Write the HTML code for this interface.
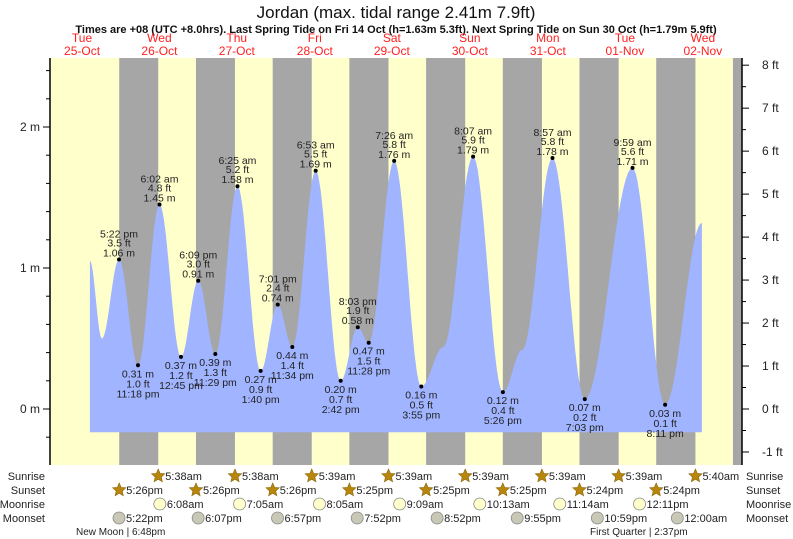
<!DOCTYPE html>
<html><head><meta charset="utf-8"><style>
body{margin:0;background:#fff;}
svg{display:block;font-family:"Liberation Sans",Arial,sans-serif;}
</style></head><body>
<svg id="chart" width="793" height="539" viewBox="0 0 793 539">
<text x="396" y="18" text-anchor="middle" font-size="17" fill="#111">Jordan (max. tidal range 2.41m 7.9ft)</text>
<text x="396" y="33" text-anchor="middle" font-size="11" font-weight="bold" fill="#111">Times are +08 (UTC +8.0hrs). Last Spring Tide on Fri 14 Oct (h=1.63m 5.3ft). Next Spring Tide on Sun 30 Oct (h=1.79m 5.9ft)</text>
<g id="bg"></g><g id="tide"></g><g id="axes"></g><g id="labels"></g><g id="days"></g><g id="astro"></g>
<text x="45" y="480" text-anchor="end" font-size="11" fill="#222">Sunrise</text>
<text x="45" y="494" text-anchor="end" font-size="11" fill="#222">Sunset</text>
<text x="45" y="508" text-anchor="end" font-size="11" fill="#222">Moonrise</text>
<text x="45" y="522" text-anchor="end" font-size="11" fill="#222">Moonset</text>
<text x="746" y="480" font-size="11" fill="#222">Sunrise</text>
<text x="746" y="494" font-size="11" fill="#222">Sunset</text>
<text x="746" y="508" font-size="11" fill="#222">Moonrise</text>
<text x="746" y="522" font-size="11" fill="#222">Moonset</text>
<text x="76" y="535" font-size="10" fill="#222">New Moon | 6:48pm</text>
<text x="590" y="535" font-size="10" fill="#222">First Quarter | 2:37pm</text>
</svg>
<script>
// hours since 25-Oct 00:00
const extremeHours=[17.367,23.3,30.033,36.75,42.15,47.483,54.417,61.667,67.017,71.567,78.883,86.7,92.05,95.467,103.433,111.917,128.117,137.433,152.95,163.05,177.983,188.183];
const extremeHeights=[1.06,0.31,1.45,0.37,0.91,0.39,1.58,0.27,0.74,0.44,1.69,0.20,0.58,0.47,1.76,0.16,1.79,0.12,1.78,0.07,1.71,0.03];
const extremeFeet=["3.5","1.0","4.8","1.2","3.0","1.3","5.2","0.9","2.4","1.4","5.5","0.7","1.9","1.5","5.8","0.5","5.9","0.4","5.8","0.2","5.6","0.1"];
const extremeTimes=["5:22 pm","11:18 pm","6:02 am","12:45 pm","6:09 pm","11:29 pm","6:25 am","1:40 pm","7:01 pm","11:34 pm","6:53 am","2:42 pm","8:03 pm","11:28 pm","7:26 am","3:55 pm","8:07 am","5:26 pm","8:57 am","7:03 pm","9:59 am","8:11 pm"];
const extremeIsHigh=[1,0,1,0,1,0,1,0,1,0,1,0,1,0,1,0,1,0,1,0,1,0];
const shapeHours=[8.26,12.0,118.8,143.5,199.7];
const shapeHeights=[1.05,0.50,0.44,0.42,1.32];
const sunriseHours=[29.633,53.633,77.65,101.65,125.65,149.65,173.65,197.667];
const sunriseTimes=["5:38am","5:38am","5:39am","5:39am","5:39am","5:39am","5:39am","5:40am"];
const sunsetHours=[17.433,41.433,65.433,89.417,113.417,137.417,161.4,185.4,209.4];
const sunsetTimes=["5:26pm","5:26pm","5:26pm","5:25pm","5:25pm","5:25pm","5:24pm","5:24pm",""];
const moonriseHours=[30.133,55.083,80.083,105.15,130.217,155.233,180.183];
const moonriseTimes=["6:08am","7:05am","8:05am","9:09am","10:13am","11:14am","12:11pm"];
const moonsetHours=[17.367,42.117,66.95,91.867,116.867,141.917,166.983,192.0];
const moonsetTimes=["5:22pm","6:07pm","6:57pm","7:52pm","8:52pm","9:55pm","10:59pm","12:00am"];
const dayNames=["Tue","Wed","Thu","Fri","Sat","Sun","Mon","Tue","Wed"];
const dayDates=["25-Oct","26-Oct","27-Oct","28-Oct","29-Oct","30-Oct","31-Oct","01-Nov","02-Nov"];
const dayLabelHours=[5.8,30.0,54.2,78.6,102.7,127.1,151.5,175.6,200.0];
const meterTicks=[0,1,2];
const feetTicks=[-1,0,1,2,3,4,5,6,7,8];

const NS="http://www.w3.org/2000/svg";
const X0=50,X1=742,Y0=58,Y1=465;
function xs(h){return 63.5+h*3.197;}
function ys(m){return 409-m*141;}
function mk(tag,attrs,parent,txt){const e=document.createElementNS(NS,tag);for(const k in attrs)e.setAttribute(k,attrs[k]);if(txt!==undefined)e.textContent=txt;parent.appendChild(e);return e;}
const bg=document.getElementById('bg'),tide=document.getElementById('tide'),axes=document.getElementById('axes'),labels=document.getElementById('labels'),days=document.getElementById('days'),astro=document.getElementById('astro');

let r=mk('rect',{x:X0,y:Y0,width:X1-X0,height:Y1-Y0,fill:'#ffffcc'},bg);


for(let i=0;i<sunsetHours.length;i++){
  const a=xs(sunsetHours[i]);const b=i<sunriseHours.length?xs(sunriseHours[i]):X1;
  const n=mk('rect',{x:a,y:Y0,width:Math.min(b,X1)-a,height:Y1-Y0,fill:'#a6a6a6'},bg);
  
  
}
const pts=[];
for(let i=0;i<extremeHours.length;i++)pts.push([extremeHours[i],extremeHeights[i]]);
for(let i=0;i<shapeHours.length;i++)pts.push([shapeHours[i],shapeHeights[i]]);
pts.sort((p,q)=>p[0]-q[0]);
const bottom=ys(-0.165);
let d='M'+xs(pts[0][0]).toFixed(1)+','+bottom.toFixed(1);
for(let i=0;i<pts.length-1;i++){
  const [h0,v0]=pts[i],[h1,v1]=pts[i+1];
  for(let k=0;k<=20;k++){const t=k/20;const v=v0+(v1-v0)*(1-Math.cos(Math.PI*t))/2;d+=' L'+xs(h0+(h1-h0)*t).toFixed(1)+','+ys(v).toFixed(1);}
}
d+=' L'+xs(pts[pts.length-1][0]).toFixed(1)+','+bottom.toFixed(1)+' Z';
const area=mk('path',{d:d,fill:'#a0b4ff'},tide);


for(let i=0;i<extremeHours.length;i++){
  const x=xs(extremeHours[i]),y=ys(extremeHeights[i]);
  const dot=mk('circle',{cx:x,cy:y,r:2,fill:'#000'},labels);
  
  
  const g=mk('g',{'font-size':'10.5','fill':'#222','text-anchor':'middle'},labels);
  
  
  const m=extremeHeights[i].toFixed(2)+' m',f=extremeFeet[i]+' ft';
  if(extremeIsHigh[i]){
    mk('text',{x:x,y:y-3},g,m);mk('text',{x:x,y:y-13},g,f);mk('text',{x:x,y:y-22},g,extremeTimes[i]);
  }else{
    mk('text',{x:x,y:y+12},g,m);mk('text',{x:x,y:y+22},g,f);mk('text',{x:x,y:y+32},g,extremeTimes[i]);
  }
}
let l=mk('line',{x1:X0,y1:Y0,x2:X0,y2:Y1,stroke:'#000','stroke-width':1.5},axes);

l=mk('line',{x1:X1,y1:Y0,x2:X1,y2:Y1,stroke:'#000','stroke-width':1.5},axes);

for(let v=-0.4;v<=2.61;v+=0.2){const y=ys(v);if(y<Y0||y>Y1)continue;const maj=Math.abs(v-Math.round(v))<0.01;mk('line',{x1:X0-(maj?7:4),y1:y,x2:X0,y2:y,stroke:'#000'},axes);}
for(const m of meterTicks){const t=mk('text',{x:X0-10,y:ys(m)+4,'text-anchor':'end','font-size':'12',fill:'#222'},axes,m+' m');}
for(let f=-1.5;f<=8.01;f+=0.5){const y=ys(f*0.3048);if(y<Y0||y>Y1)continue;const maj=Math.abs(f-Math.round(f))<0.01;mk('line',{x1:X1,y1:y,x2:X1+(maj?7:4),y2:y,stroke:'#000'},axes);}
for(const f of feetTicks){const t=mk('text',{x:X1+20,y:ys(f*0.3048)+4,'font-size':'12',fill:'#222'},axes,f+' ft');}
for(let i=0;i<dayNames.length;i++){
  const x=xs(dayLabelHours[i]);
  const t1=mk('text',{x:x,y:42,'text-anchor':'middle','font-size':'12',fill:'#ff2020'},days,dayNames[i]);
  
  const t2=mk('text',{x:x,y:55,'text-anchor':'middle','font-size':'12',fill:'#ff2020'},days,dayDates[i]);
  
}
function star(cx,cy){let p='';for(let k=0;k<10;k++){const a=-Math.PI/2+k*Math.PI/5;const rr=k%2?3.2:7;p+=(cx+rr*Math.cos(a)).toFixed(1)+','+(cy+rr*Math.sin(a)).toFixed(1)+' ';}return p;}
function row(hours,times,y,type){
  for(let i=0;i<hours.length;i++){
    if(!times[i])continue;const x=xs(hours[i]);
    let ic;
    if(type==='sun')ic=mk('polygon',{points:star(x,y-4),fill:'#b8860b',stroke:'#8a6508','stroke-width':0.6},astro);
    else ic=mk('circle',{cx:x,cy:y-4,r:6,fill:type==='mrise'?'#ffffcc':'#c8c8b4',stroke:'#888','stroke-width':0.8},astro);
    
    const t=mk('text',{x:x+7,y:y,'font-size':'11',fill:'#222'},astro,times[i]);
    
  }
}
row(sunriseHours,sunriseTimes,480,'sun');
row(sunsetHours,sunsetTimes,494,'sun');
row(moonriseHours,moonriseTimes,508,'mrise');
row(moonsetHours,moonsetTimes,522,'mset');
</script>
</body></html>
